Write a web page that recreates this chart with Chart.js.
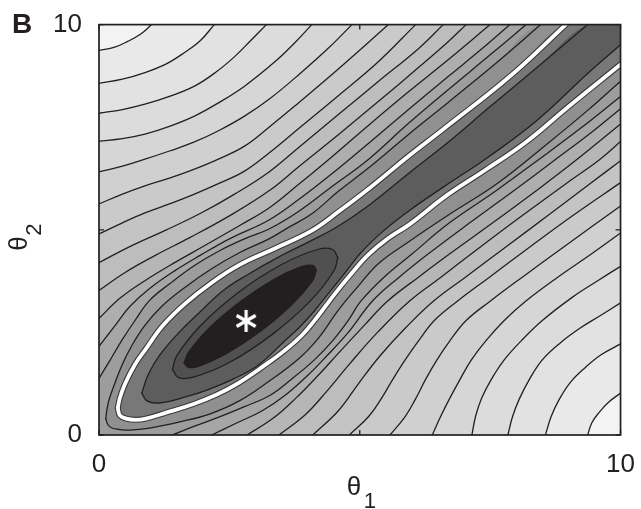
<!DOCTYPE html>
<html>
<head>
<meta charset="utf-8">
<script src="https://cdn.jsdelivr.net/npm/chart.js@4.4.1/dist/chart.umd.min.js"></script>
<style>
  html, body { margin: 0; padding: 0; background: #fff; }
  canvas { display: block; }
</style>
</head>
<body>
<canvas id="chart" width="641" height="509"></canvas>
<script>
// axes
const xTicks = [0, 5, 10];
const xTickLabels = ['0', '', '10'];
const yTicks = [0, 5, 10];
const yTickLabels = ['0', '', '10'];
const panelLabel = 'B';
const xTitle = ['θ', '1'];
const yTitle = ['θ', '2'];

// best fit (the asterisk)
const minimum = [2.82, 2.78];

// outer contours, upper-left branch: left edge -> top edge (theta1, theta2)
const ul2 = [[0,1.38],[0.21,1.82],[0.44,2.31],[0.69,2.79],[0.97,3.28],[1.36,3.69],[1.83,4.13],[2.31,4.49],[2.79,4.78],[3.26,5.02],[3.84,5.46],[4.41,6.0],[5.17,6.72],[5.94,7.6],[6.7,8.42],[7.46,9.22],[8.19,10]];
const ul3 = [[0,2.16],[0.31,2.67],[0.59,3.13],[0.97,3.57],[1.45,4.0],[1.93,4.37],[2.5,4.78],[3.26,5.24],[3.84,5.75],[4.41,6.31],[5.17,7.11],[5.94,7.94],[6.7,8.74],[7.37,9.44],[7.88,10]];
const ul4 = [[0,2.84],[0.4,3.33],[0.88,3.76],[1.45,4.2],[2.02,4.61],[2.69,5.1],[3.26,5.53],[3.84,6.12],[4.41,6.72],[5.17,7.55],[5.94,8.37],[6.7,9.15],[7.5,10]];
const ul5 = [[0,3.52],[0.5,3.96],[1.07,4.37],[1.74,4.81],[2.5,5.34],[3.26,5.95],[3.84,6.55],[4.6,7.33],[5.36,8.13],[6.13,8.96],[6.7,9.59],[7.04,10]];
const ul6 = [[0,4.2],[0.59,4.59],[1.26,4.98],[1.93,5.39],[2.6,5.87],[3.26,6.41],[3.84,7.02],[4.6,7.82],[5.36,8.62],[6.13,9.42],[6.6,10]];
const ul7 = [[0,4.9],[0.45,5.17],[0.88,5.41],[1.35,5.63],[1.83,5.87],[2.3,6.13],[2.79,6.43],[3.26,6.87],[3.84,7.48],[4.6,8.28],[5.36,9.1],[6.07,10]];
const ul8 = [[0,5.63],[0.45,5.87],[0.88,6.07],[1.35,6.26],[1.83,6.48],[2.3,6.73],[2.79,7.04],[3.26,7.5],[3.84,8.11],[4.6,8.93],[5.55,10]];
const ul9 = [[0,6.41],[0.45,6.55],[0.88,6.72],[1.35,6.92],[1.83,7.14],[2.3,7.42],[2.79,7.77],[3.26,8.18],[3.84,8.79],[4.41,9.44],[4.85,10]];
const ul10 = [[0,7.16],[0.45,7.22],[0.88,7.33],[1.35,7.52],[1.83,7.77],[2.3,8.1],[2.79,8.5],[3.36,9.08],[3.74,9.54],[4.08,10]];
const ul11 = [[0,7.84],[0.45,7.93],[0.88,8.06],[1.35,8.25],[1.83,8.5],[2.25,8.85],[2.6,9.22],[2.9,9.6],[3.21,10]];
const ul12 = [[0,8.57],[0.45,8.67],[0.88,8.83],[1.3,9.05],[1.64,9.32],[1.95,9.62],[2.21,10]];
const ul13 = [[0,9.37],[0.3,9.45],[0.55,9.59],[0.8,9.77],[1.01,10]];

// outer contours, lower-right branch: bottom edge -> right edge
const lr2 = [[1.4,0],[1.82,0.21],[2.31,0.44],[2.79,0.69],[3.28,0.97],[3.69,1.36],[4.13,1.83],[4.49,2.31],[4.78,2.79],[5.02,3.26],[5.46,3.84],[6.0,4.41],[6.72,5.17],[7.6,5.94],[8.42,6.7],[9.22,7.46],[10,8.25]];
const lr3 = [[2.16,0],[2.67,0.31],[3.13,0.59],[3.57,0.97],[4.0,1.45],[4.37,1.93],[4.78,2.5],[5.24,3.26],[5.75,3.84],[6.31,4.41],[7.11,5.17],[7.94,5.94],[8.74,6.7],[9.44,7.37],[10,7.95]];
const lr4 = [[2.84,0],[3.33,0.4],[3.76,0.88],[4.2,1.45],[4.61,2.02],[5.1,2.69],[5.53,3.26],[6.12,3.84],[6.72,4.41],[7.55,5.17],[8.37,5.94],[9.15,6.7],[10,7.58]];
const lr5 = [[3.45,0],[3.96,0.5],[4.37,1.07],[4.81,1.74],[5.34,2.5],[5.95,3.26],[6.55,3.84],[7.33,4.6],[8.13,5.36],[8.96,6.13],[9.59,6.7],[10,7.15]];
const lr6 = [[4.1,0],[4.59,0.59],[4.98,1.26],[5.39,1.93],[5.87,2.6],[6.41,3.26],[7.02,3.84],[7.82,4.6],[8.62,5.36],[9.42,6.13],[10,6.68]];
const lr7 = [[4.8,0],[5.17,0.45],[5.41,0.88],[5.63,1.35],[5.87,1.83],[6.13,2.3],[6.43,2.79],[6.87,3.26],[7.48,3.84],[8.28,4.6],[9.1,5.36],[10,6.15]];
const lr8 = [[5.58,0],[5.87,0.45],[6.07,0.88],[6.26,1.35],[6.48,1.83],[6.73,2.3],[7.04,2.79],[7.5,3.26],[8.11,3.84],[8.93,4.6],[10,5.58]];
const lr9 = [[6.39,0],[6.55,0.45],[6.72,0.88],[6.92,1.35],[7.14,1.83],[7.42,2.3],[7.77,2.79],[8.18,3.26],[8.79,3.84],[9.44,4.41],[10,4.92]];
const lr10 = [[7.15,0],[7.22,0.45],[7.33,0.88],[7.52,1.35],[7.77,1.83],[8.1,2.3],[8.5,2.79],[9.08,3.36],[9.54,3.74],[10,4.11]];
const lr11 = [[7.84,0],[7.93,0.45],[8.06,0.88],[8.25,1.35],[8.5,1.83],[8.85,2.25],[9.22,2.6],[9.6,2.9],[10,3.22]];
const lr12 = [[8.56,0],[8.67,0.45],[8.83,0.88],[9.05,1.3],[9.32,1.64],[9.62,1.95],[10,2.22]];
const lr13 = [[9.37,0],[9.45,0.3],[9.59,0.55],[9.77,0.8],[10,1.02]];

// contours round the valley, upper and lower halves from the left tip
const k1Upper = [[0.13,0.4],[0.15,0.6],[0.19,0.85],[0.29,1.21],[0.44,1.7],[0.63,2.18],[0.88,2.67],[1.2,3.13],[1.64,3.59],[2.16,4.05],[2.69,4.44],[3.26,4.78],[3.65,5.07],[4.08,5.39],[4.6,5.95],[5.17,6.51],[5.94,7.33],[6.7,8.11],[7.65,9.1],[8.47,10]];
const k1Lower = [[0.13,0.4],[0.17,0.25],[0.25,0.17],[0.36,0.14],[0.59,0.12],[0.97,0.17],[1.55,0.32],[2.12,0.51],[2.69,0.83],[3.26,1.31],[3.84,1.87],[4.22,2.38],[4.6,3.06],[4.98,3.64],[5.36,4.18],[5.94,4.71],[6.7,5.36],[7.65,6.14],[8.61,7.11],[9.37,7.91],[10,8.62]];
const whiteUpper = [[0.36,0.66],[0.4,0.9],[0.5,1.25],[0.69,1.72],[0.9,2.1],[1.22,2.66],[1.65,3.2],[2.16,3.71],[2.7,4.15],[3.36,4.54],[4.08,4.98],[4.6,5.45],[5.17,6.0],[5.94,6.8],[6.6,7.45],[7.88,8.74],[8.95,10]];
const whiteLower = [[0.36,0.66],[0.4,0.48],[0.52,0.4],[0.7,0.37],[0.9,0.4],[1.3,0.55],[1.8,0.75],[2.25,0.98],[2.68,1.27],[3.2,1.72],[3.55,2.05],[3.89,2.43],[4.2,2.9],[4.54,3.47],[4.85,3.95],[5.17,4.4],[5.55,4.8],[5.94,5.12],[6.68,5.85],[7.4,6.45],[8.19,7.14],[9.0,8.0],[10,9.03]];
const in3Upper = [[0.82,1.02],[0.94,1.46],[1.16,1.94],[1.55,2.52],[1.93,2.99],[2.4,3.54],[2.88,3.93],[3.45,4.34],[4.03,4.71],[4.6,5.1],[5.21,5.63],[5.94,6.38],[6.7,7.14],[7.46,7.96],[8.42,8.98],[9.37,10]];
const in3Lower = [[0.82,1.02],[0.92,0.83],[1.16,0.78],[1.64,0.92],[2.12,1.12],[2.6,1.38],[3.07,1.72],[3.55,2.28],[3.84,2.62],[4.12,3.01],[4.41,3.47],[4.69,3.91],[5.02,4.44],[5.46,4.98],[5.94,5.46],[6.6,6.04],[7.46,6.77],[8.42,7.69],[9.37,8.81],[10,9.51]];
const in2Upper = [[1.41,1.6],[1.49,1.93],[1.95,2.67],[2.69,3.49],[3.51,4.16],[4.19,4.52],[4.48,4.52],[4.58,4.32]];
const in2Lower = [[1.41,1.6],[1.52,1.4],[1.81,1.41],[2.49,1.76],[3.31,2.44],[4.04,3.25],[4.5,3.99],[4.58,4.32]];
const coreUpper = [[1.63,1.76],[1.72,2.02],[2.1,2.59],[2.7,3.24],[3.35,3.79],[3.88,4.1],[4.1,4.13],[4.17,4.02]];
const coreLower = [[1.63,1.76],[1.71,1.65],[1.92,1.68],[2.45,1.99],[3.11,2.54],[3.7,3.18],[4.09,3.75],[4.17,4.02]];

const ulLines = [ul2, ul3, ul4, ul5, ul6, ul7, ul8, ul9, ul10, ul11, ul12, ul13];
const lrLines = [lr2, lr3, lr4, lr5, lr6, lr7, lr8, lr9, lr10, lr11, lr12, lr13];

// greys of the bands (style)
const INK = '#231f20';
const FONT = "'Liberation Sans', Arial, sans-serif";
const bandBetween1and2 = '#9d9d9d';
const outerGreys = ['#a6a6a6', '#aeaeae', '#b6b6b6', '#bdbdbd', '#c4c4c4', '#cacaca', '#d0d0d0', '#d6d6d6', '#dcdcdc', '#e2e2e2', '#e9e9e9', '#f3f3f3'];
const valley = [
  { upper: k1Upper, lower: k1Lower, grey: '#909090', open: true },
  { upper: whiteUpper, lower: whiteLower, grey: '#787878', open: true, white: true },
  { upper: in3Upper, lower: in3Lower, grey: '#5d5d5d', open: true },
  { upper: in2Upper, lower: in2Lower, grey: '#505050' },
  { upper: coreUpper, lower: coreLower, grey: INK }
];

const pts = a => a.map(([x, y]) => ({ x, y }));
const datasets = [];
function add(ds) {
  datasets.push(Object.assign({
    pointRadius: 0, pointHoverRadius: 0, pointHitRadius: 0,
    tension: 0.4, fill: false, borderWidth: 0,
    borderColor: INK, borderCapStyle: 'round', borderJoinStyle: 'round',
    order: -datasets.length
  }, ds));
  return datasets.length - 1;
}

// light corners beyond each outer contour
ulLines.forEach((line, i) => {
  add({ data: pts(line), fill: 'end', backgroundColor: outerGreys[i], borderWidth: 1.3 });
  add({ data: pts(lrLines[i]), fill: 'start', backgroundColor: outerGreys[i], borderWidth: 1.3 });
});

// darker insides of the valley contours
valley.forEach(c => {
  const up = c.open ? c.upper.concat([[10, 10]]) : c.upper;
  add({ data: pts(up), fill: datasets.length + 1, backgroundColor: c.grey });
  if (c.white) {
    add({ data: pts(c.lower), borderWidth: 6, borderColor: '#3a3a3a' });
    add({ data: pts(c.upper), borderWidth: 6, borderColor: '#3a3a3a' });
    add({ data: pts(c.lower), borderWidth: 3.8, borderColor: '#ffffff' });
    add({ data: pts(c.upper), borderWidth: 3.8, borderColor: '#ffffff' });
  } else {
    add({ data: pts(c.lower), borderWidth: 1.3 });
    add({ data: pts(c.upper), borderWidth: 1.3 });
  }
});

// asterisk marker
const star = document.createElement('canvas');
star.width = 26; star.height = 26;
(function () {
  const c = star.getContext('2d');
  c.translate(13, 13);
  c.lineWidth = 3.2;
  c.strokeStyle = '#ffffff';
  [90, 30, 150].forEach(deg => {
    const r = deg * Math.PI / 180;
    c.beginPath();
    c.moveTo(-11 * Math.cos(r), -11 * Math.sin(r));
    c.lineTo(11 * Math.cos(r), 11 * Math.sin(r));
    c.stroke();
  });
})();
add({ data: pts([minimum]), showLine: false, pointRadius: 12, pointStyle: star });

const decorations = {
  id: 'decorations',
  beforeDraw(chart) {
    const { ctx, chartArea: a } = chart;
    ctx.save();
    ctx.fillStyle = '#ffffff';
    ctx.fillRect(0, 0, chart.width, chart.height);
    ctx.fillStyle = bandBetween1and2;
    ctx.fillRect(a.left, a.top, a.right - a.left, a.bottom - a.top);
    ctx.restore();
  },
  afterDatasetsDraw(chart) {
    const { ctx, chartArea: a, scales: { x, y } } = chart;
    ctx.save();
    ctx.strokeStyle = INK;
    ctx.lineWidth = 1.7;
    ctx.strokeRect(a.left, a.top, a.right - a.left, a.bottom - a.top);
    ctx.lineWidth = 1.3;
    ctx.beginPath();
    xTicks.forEach(v => {
      const px = x.getPixelForValue(v);
      ctx.moveTo(px, a.bottom); ctx.lineTo(px, a.bottom - 5);
      ctx.moveTo(px, a.top); ctx.lineTo(px, a.top + 5);
    });
    yTicks.forEach(v => {
      const py = y.getPixelForValue(v);
      ctx.moveTo(a.left, py); ctx.lineTo(a.left + 5, py);
      ctx.moveTo(a.right, py); ctx.lineTo(a.right - 5, py);
    });
    ctx.stroke();
    ctx.restore();
  },
  afterDraw(chart) {
    const { ctx, chartArea: a } = chart;
    const cx = (a.left + a.right) / 2;
    const cy = (a.top + a.bottom) / 2;
    ctx.save();
    ctx.fillStyle = INK;
    ctx.textBaseline = 'alphabetic';
    ctx.font = 'bold 28px ' + FONT;
    ctx.fillText(panelLabel, 12, 33);
    ctx.font = '26px ' + FONT;
    ctx.fillText(xTitle[0], cx - 13, 495);
    ctx.font = '22px ' + FONT;
    ctx.fillText(xTitle[1], cx + 4, 508);
    ctx.translate(27, cy + 21);
    ctx.rotate(-Math.PI / 2);
    ctx.font = '26px ' + FONT;
    ctx.fillText(yTitle[0], 0, 0);
    ctx.font = '22px ' + FONT;
    ctx.fillText(yTitle[1], 15, 14);
    ctx.restore();
  }
};

new Chart(document.getElementById('chart'), {
  type: 'line',
  data: { datasets },
  options: {
    responsive: false,
    animation: false,
    devicePixelRatio: 1,
    events: [],
    layout: { padding: { left: 0, top: 23, right: 18, bottom: 0 } },
    plugins: {
      legend: { display: false },
      tooltip: { enabled: false },
      filler: { drawTime: 'beforeDatasetsDraw', propagate: false }
    },
    scales: {
      x: {
        type: 'linear', min: 0, max: 10,
        grid: { display: false }, border: { display: false },
        afterBuildTicks: s => { s.ticks = xTicks.map(v => ({ value: v })); },
        afterFit: s => { s.height = 74; },
        ticks: {
          autoSkip: false, maxRotation: 0, padding: 6, color: INK,
          font: { family: FONT, size: 26 },
          callback: (v, i) => xTickLabels[i]
        }
      },
      y: {
        type: 'linear', min: 0, max: 10,
        grid: { display: false }, border: { display: false },
        afterBuildTicks: s => { s.ticks = yTicks.map(v => ({ value: v })); },
        afterFit: s => { s.width = 99; },
        ticks: {
          autoSkip: false, padding: 9, color: INK,
          font: { family: FONT, size: 26 },
          callback: (v, i) => yTickLabels[i]
        }
      }
    }
  },
  plugins: [decorations]
});
</script>
</body>
</html>
